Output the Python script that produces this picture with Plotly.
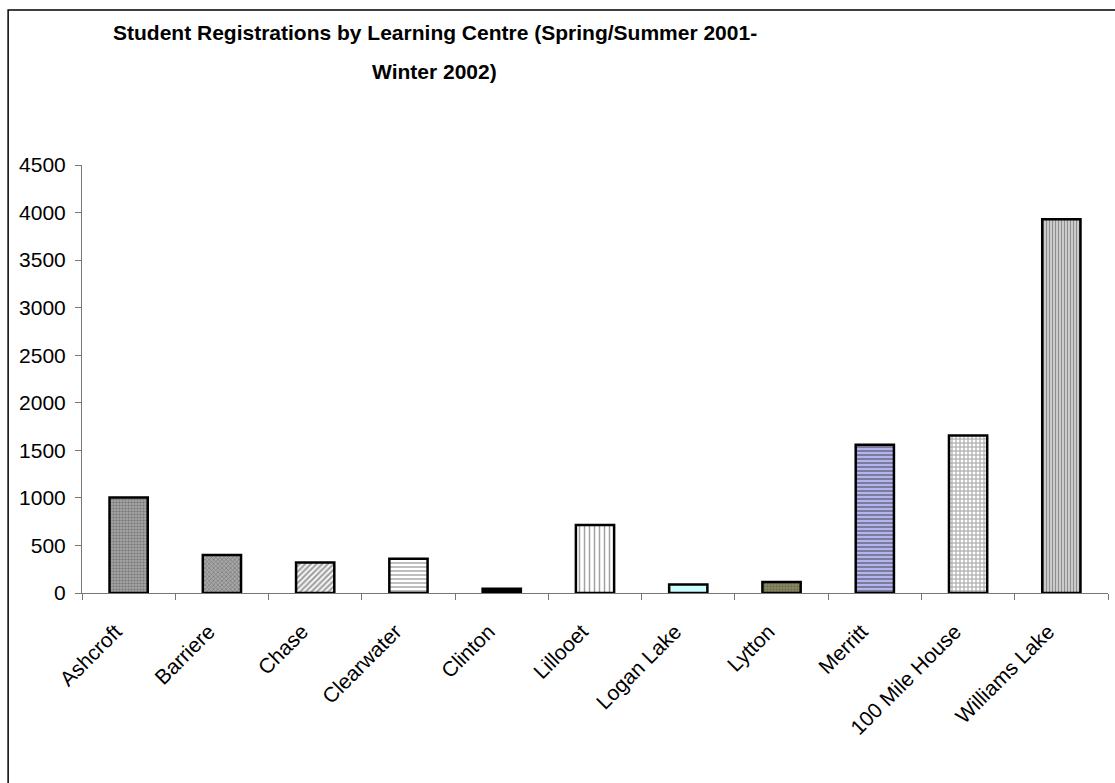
import plotly.graph_objects as go

# Registrations per learning centre
centres = ["Ashcroft", "Barriere", "Chase", "Clearwater", "Clinton", "Lillooet",
           "Logan Lake", "Lytton", "Merritt", "100 Mile House", "Williams Lake"]
registrations = [1005, 400, 320, 360, 45, 715, 90, 115, 1560, 1655, 3930]

# Per-bar fill styling (background colour, pattern shape, pattern colour, pattern size, solidity)
bg_colors = ["#a4a4a4", "#a8a8a8", "#ffffff", "#ffffff", "#000000", "#ffffff",
             "#ccffff", "#8a8a60", "#b4b4f0", "#ffffff", "#d8d8d8"]
shapes = [".", "x", "/", "-", "", "|", "", ".", "-", "+", "|"]
fg_colors = ["#606060", "#3c3c3c", "#222222", "#707070", "#000000", "#666666",
             "#ccffff", "#5a5a30", "#4848a0", "#333333", "#505050"]
sizes = [3, 3, 4, 4, 4, 5, 4, 3, 4, 4, 3]
solidities = [0.4, 0.4, 0.55, 0.35, 0.3, 0.3, 0.3, 0.4, 0.5, 0.45, 0.45]

y_ticks = list(range(0, 4501, 500))

FONT = "Arial, Liberation Sans, sans-serif"

fig = go.Figure(
    go.Bar(
        x=centres,
        y=registrations,
        marker=dict(
            color=bg_colors,
            line=dict(color="#000000", width=2.5),
            pattern=dict(shape=shapes, fgcolor=fg_colors, size=sizes,
                         solidity=solidities, fillmode="overlay"),
        ),
        showlegend=False,
    )
)

fig.update_layout(
    width=1115,
    height=783,
    margin=dict(l=82, r=7, t=165, b=190),
    paper_bgcolor="#ffffff",
    plot_bgcolor="#ffffff",
    bargap=0.59,
    font=dict(family=FONT, size=20, color="#000000"),
    xaxis=dict(
        tickangle=-45,
        tickson="boundaries",
        ticks="outside",
        ticklen=6,
        tickcolor="#777777",
        showline=True,
        linecolor="#777777",
        linewidth=1,
        showgrid=False,
        ticklabelstandoff=17,
        ticklabelshift=-13,
        tickfont=dict(family=FONT, size=21),
    ),
    yaxis=dict(
        range=[0, 4500],
        tickvals=y_ticks,
        ticks="outside",
        ticklen=6,
        tickcolor="#777777",
        showline=True,
        linecolor="#777777",
        linewidth=1,
        showgrid=False,
        zeroline=False,
        ticklabelstandoff=5,
        tickfont=dict(family=FONT, size=21),
    ),
    annotations=[
        dict(text="<b>Student Registrations by Learning Centre (Spring/Summer 2001-</b>",
             xref="paper", yref="paper", x=0.344, y=1.31,
             xanchor="center", yanchor="middle", showarrow=False,
             font=dict(family=FONT, size=21)),
        dict(text="<b>Winter 2002)</b>",
             xref="paper", yref="paper", x=0.344, y=1.2185,
             xanchor="center", yanchor="middle", showarrow=False,
             font=dict(family=FONT, size=21)),
    ],
    shapes=[
        dict(type="rect", xref="paper", yref="paper",
             x0=-0.072, x1=1.05, y0=-0.5, y1=1.362,
             line=dict(color="#000000", width=1.5), layer="below"),
    ],
)

fig.write_html("out.html")
